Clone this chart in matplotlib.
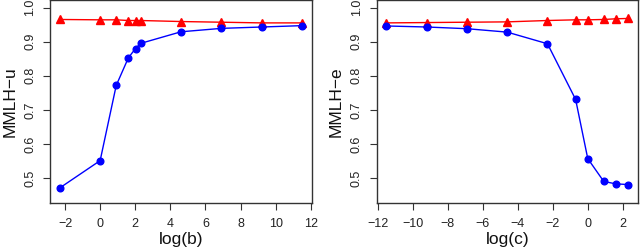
import matplotlib
matplotlib.use("Agg")
import matplotlib.pyplot as plt

plt.rcParams['font.family'] = ['Liberation Sans', 'DejaVu Sans']

# Left panel data
b_log = [-2.303, 0.0, 0.916, 1.609, 2.015, 2.303, 4.605, 6.908, 9.210, 11.513]
u_blue = [0.472, 0.552, 0.772, 0.853, 0.880, 0.895, 0.929, 0.939, 0.943, 0.947]
u_red = [0.965, 0.964, 0.964, 0.962, 0.962, 0.962, 0.959, 0.957, 0.955, 0.955]

# Right panel data
c_log = [-11.513, -9.210, -6.908, -4.605, -2.303, -0.693, 0.0, 0.916, 1.609, 2.303]
e_blue = [0.946, 0.943, 0.938, 0.928, 0.894, 0.731, 0.558, 0.491, 0.484, 0.482]
e_red = [0.955, 0.956, 0.957, 0.958, 0.962, 0.964, 0.964, 0.965, 0.967, 0.968]

left_xticks = [-2, 0, 2, 4, 6, 8, 10, 12]
right_xticks = [-12, -10, -8, -6, -4, -2, 0, 2]
yticks = [0.5, 0.6, 0.7, 0.8, 0.9, 1.0]

fig = plt.figure(figsize=(6.4, 2.52), dpi=100)

def rpad(lo, hi):
    d = (hi - lo) * 0.04
    return lo - d, hi + d

panels = [
    ([50/640, 1-203/252, 262/640, 203/252], b_log, u_blue, u_red, left_xticks, "log(b)", "MMLH\u2212u"),
    ([376.7/640, 1-203/252, 261/640, 203/252], c_log, e_blue, e_red, right_xticks, "log(c)", "MMLH\u2212e"),
]

for rect, x, yb, yr, xt, xl, yl in panels:
    ax = fig.add_axes(rect)
    ax.plot(x, yr, color='red', marker='^', markersize=5.5, linewidth=1, clip_on=False)
    ax.plot(x, yb, color='blue', marker='o', markersize=4.8, linewidth=1, clip_on=False)
    ax.set_xlim(*rpad(min(x), max(x)))
    ax.set_ylim(*rpad(0.45, 1.0))
    ax.set_xticks(xt)
    ax.set_xticklabels([("\u2212%d" % -v) if v < 0 else str(v) for v in xt])
    ax.set_yticks(yticks)
    ax.set_yticklabels(["%.1f" % v for v in yticks], rotation=90, va='center')
    ax.tick_params(direction='out', length=5, width=0.8, color='#333333', labelsize=9, labelcolor='#222222')
    ax.tick_params(axis='x', pad=6)
    ax.tick_params(axis='y', pad=5)
    for s in ax.spines.values():
        s.set_linewidth(1.0)
        s.set_color('#333333')
    ax.set_xlabel(xl, fontsize=12.5, labelpad=1, color='#111111')
    ax.set_ylabel(yl, fontsize=12.5, labelpad=5, color='#111111')

fig.savefig("out.png", dpi=100)
